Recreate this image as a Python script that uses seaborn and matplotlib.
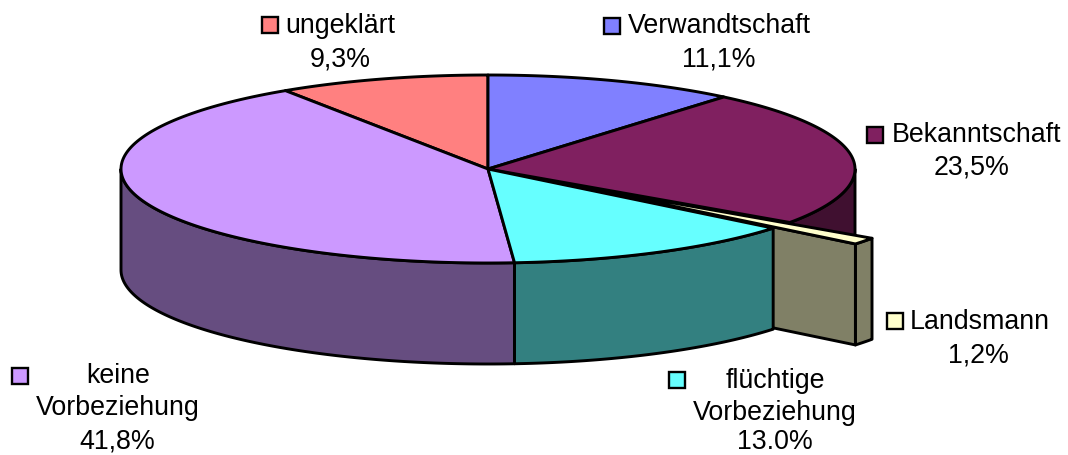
import numpy as np
import matplotlib.pyplot as plt
import matplotlib.colors as mcolors
from matplotlib.patches import Polygon, Rectangle
import seaborn as sns

# slices, clockwise from 12 o'clock
categories = ['Verwandtschaft', 'Bekanntschaft', 'Landsmann',
              'flüchtige\nVorbeziehung', 'keine\nVorbeziehung', 'ungeklärt']
shares = [11.1, 23.5, 1.2, 13.0, 41.8, 9.3]
share_labels = ['11,1%', '23,5%', '1,2%', '13.0%', '41,8%', '9,3%']
explode = [0, 0, 0.28, 0, 0, 0]
top_colors = ['#8080FF', '#802060', '#FFFFCC', '#66FFFF', '#CC99FF', '#FF8080']

# label layout (pixel positions): key box x/y, first line x/baseline, anchor
label_layout = [
    dict(box=(604, 18), line=(628, 33), ha='left', pct=(719, 67)),
    dict(box=(867, 127), line=(892, 142), ha='left', pct=(972, 174)),
    dict(box=(887, 313), line=(910, 329), ha='left', pct=(978, 363)),
    dict(box=(669, 372), line=(775, 388), ha='center', pct=(775, 449)),
    dict(box=(12, 368), line=(118, 383), ha='center', pct=(117, 448)),
    dict(box=(262, 17), line=(285, 33), ha='left', pct=(340, 67)),
]

sns.set_style('white')
plt.rcParams['font.family'] = ['Liberation Sans', 'DejaVu Sans']
plt.rcParams['text.color'] = 'black'

fig = plt.figure(figsize=(10.68, 4.55), dpi=100)
ax = fig.add_axes([0, 0, 1, 1])
ax.set_xlim(0, 1068)
ax.set_ylim(455, 0)
ax.axis('off')

# pie ellipse geometry in pixels
cx, cy, rx, ry, depth = 488, 169, 367, 94, 101
lw = 2.1

total = sum(shares)
bounds = np.concatenate([[0], np.cumsum(shares)]) / total * 360


def arc(t0, t1, off, dz=0, n=120):
    t = np.radians(np.linspace(t0, t1, n))
    return np.column_stack([cx + off[0] + rx * np.sin(t),
                            cy + off[1] - ry * np.cos(t) + dz])


def point(t, off, dz=0):
    t = np.radians(t)
    return [cx + off[0] + rx * np.sin(t), cy + off[1] - ry * np.cos(t) + dz]


def side_color(c):
    return tuple(np.array(mcolors.to_rgb(c)) * 0.5)


def draw_poly(pts, color, z):
    ax.add_patch(Polygon(pts, closed=True, facecolor=color, edgecolor='black',
                         lw=lw, joinstyle='round', zorder=z))


n = len(shares)
mids = [(bounds[i] + bounds[i + 1]) / 2 for i in range(n)]
order = sorted(range(n), key=lambda i: -np.cos(np.radians(mids[i])))

z = 1
for i in order:
    a, b = bounds[i], bounds[i + 1]
    m = np.radians(mids[i])
    off = (explode[i] * rx * np.sin(m), -explode[i] * ry * np.cos(m))
    centre = [cx + off[0], cy + off[1]]
    sc = side_color(top_colors[i])
    # outer wall, front half only
    wa, wb = max(a, 90), min(b, 270)
    if wb > wa:
        top = arc(wa, wb, off)
        bot = arc(wa, wb, off, depth)[::-1]
        draw_poly(np.vstack([top, bot]), sc, z)
        z += 1
    # cut faces next to an exploded slice
    nb_next = explode[(i + 1) % n] > 0
    nb_prev = explode[(i - 1) % n] > 0
    if (explode[i] > 0 or nb_next) and np.sin(np.radians(b)) > 0:
        p = point(b, off)
        draw_poly([centre, p, [p[0], p[1] + depth], [centre[0], centre[1] + depth]], sc, z)
        z += 1
    if (explode[i] > 0 or nb_prev) and np.sin(np.radians(a)) < 0:
        p = point(a, off)
        draw_poly([centre, p, [p[0], p[1] + depth], [centre[0], centre[1] + depth]], sc, z)
        z += 1
    # top face
    draw_poly(np.vstack([[centre], arc(a, b, off)]), top_colors[i], z)
    z += 1

# data labels with legend keys
fs = 19.3
for i in range(n):
    lay = label_layout[i]
    bx, by = lay['box']
    ax.add_patch(Rectangle((bx, by), 16, 16, facecolor=top_colors[i],
                           edgecolor='black', lw=1.7, zorder=z))
    lx, ly = lay['line']
    lines = categories[i].split('\n')
    for k, line in enumerate(lines):
        ax.text(lx, ly + k * 32, line, fontsize=fs, color='black',
                ha=lay['ha'], va='baseline', zorder=z)
    px, py = lay['pct']
    ax.text(px, py, share_labels[i], fontsize=fs, color='black',
            ha='center', va='baseline', zorder=z)

fig.savefig('out.png', dpi=100)
plt.close(fig)
